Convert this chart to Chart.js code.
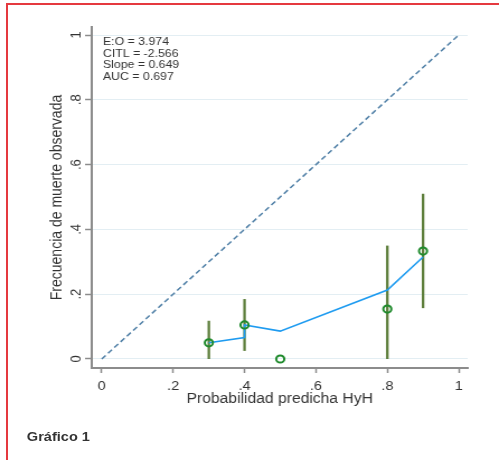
<!DOCTYPE html>
<html>
<head>
<meta charset="utf-8">
<script src="https://cdn.jsdelivr.net/npm/chart.js@4.4.1/dist/chart.umd.min.js"></script>
<style>
  html, body { margin: 0; padding: 0; background: #fff; overflow: hidden; }
  #frame { position: absolute; left: 6px; top: 3px; right: -10px; bottom: -10px;
           border-top: 2px solid #e5393f; border-left: 2px solid #e5393f; }
  #wrap { position: absolute; left: 0; top: 0; width: 446px; height: 460px;
          transform: scaleX(1.1188); transform-origin: 0 0; }
  #caption { position: absolute; left: 24px; top: 429px; font: bold 13px "Liberation Sans", Arial, sans-serif; color: #333; }
</style>
</head>
<body>
<div id="frame"></div>
<div id="wrap">
  <canvas id="c" width="446" height="460"></canvas>
  <div id="caption">Gráfico 1</div>
</div>
<script>
const X_TICKS = [0, 0.2, 0.4, 0.6, 0.8, 1];
const Y_TICKS = [0, 0.2, 0.4, 0.6, 0.8, 1];

// grouped observed frequency with 95% CI
const BIN_X = [0.3, 0.4, 0.5, 0.8, 0.9];
const OBS_Y = [0.05, 0.105, 0, 0.154, 0.333];
const CI_LO = [0, 0.025, 0, 0, 0.157];
const CI_HI = [0.118, 0.185, 0, 0.35, 0.51];

// smoothed calibration curve
const SMOOTH_X = [0.3, 0.4, 0.4, 0.5, 0.8, 0.9];
const SMOOTH_Y = [0.05, 0.066, 0.105, 0.086, 0.213, 0.315];

// reference line
const DIAG_X = [0, 1];
const DIAG_Y = [0, 1];

const STATS_LINES = ["E:O = 3.974", "CITL = -2.566", "Slope = 0.649", "AUC = 0.697"];

const AXIS = "#8c8c8c";
const FONT = "'Liberation Sans', Arial, sans-serif";

function fmtTick(v) {
  if (v === 0) return "0";
  if (v === 1) return "1";
  return String(Math.round(v * 10) / 10).replace(/^0\./, ".");
}

const pts = (xs, ys) => xs.map((x, i) => ({ x, y: ys[i] }));

const statsText = {
  id: "statsText",
  afterDatasetsDraw(chart) {
    const { ctx, chartArea } = chart;
    ctx.save();
    ctx.font = "11px " + FONT;
    ctx.fillStyle = "#333";
    ctx.textBaseline = "middle";
    STATS_LINES.forEach((t, i) => {
      ctx.fillText(t, chartArea.left + 10, chartArea.top + 15 + i * 11.5);
    });
    ctx.restore();
  },
};

const errorSets = BIN_X.map((x, i) => ({
  type: "line",
  data: [{ x, y: CI_LO[i] }, { x, y: CI_HI[i] }],
  borderColor: "#5e7f3c",
  borderWidth: 2.3,
  pointRadius: 0,
  order: 3,
}));

new Chart(document.getElementById("c"), {
  type: "scatter",
  data: {
    datasets: [
      {
        data: pts(BIN_X, OBS_Y),
        pointRadius: 3.6,
        pointBorderWidth: 2,
        pointBorderColor: "#1f8a2c",
        pointBackgroundColor: "rgba(0,0,0,0)",
        showLine: false,
        order: 1,
      },
      {
        type: "line",
        data: pts(SMOOTH_X, SMOOTH_Y),
        borderColor: "#1e9bf0",
        borderWidth: 1.6,
        pointRadius: 0,
        tension: 0,
        order: 2,
      },
      ...errorSets,
      {
        type: "line",
        data: pts(DIAG_X, DIAG_Y),
        borderColor: "#4f7fa6",
        borderWidth: 1.5,
        borderDash: [5, 3],
        pointRadius: 0,
        order: 4,
      },
    ],
  },
  options: {
    responsive: false,
    animation: false,
    events: [],
    layout: { padding: { left: 43, top: 27, right: 28, bottom: 52 } },
    plugins: { legend: { display: false }, tooltip: { enabled: false } },
    scales: {
      x: {
        type: "linear",
        min: -0.028,
        max: 1.025,
        afterBuildTicks: (s) => { s.ticks = X_TICKS.map((v) => ({ value: v })); },
        afterFit: (s) => { s.height = 40; },
        border: { display: true, color: AXIS, width: 2 },
        grid: { drawOnChartArea: false, tickLength: 5, tickColor: AXIS, tickWidth: 1.5 },
        ticks: { callback: fmtTick, padding: 6, color: "#333", font: { family: FONT, size: 13 } },
        title: {
          display: true, text: "Probabilidad predicha HyH", color: "#333",
          padding: 0, font: { family: FONT, size: 14 },
        },
      },
      y: {
        type: "linear",
        min: -0.0278,
        max: 1.0247,
        afterBuildTicks: (s) => { s.ticks = Y_TICKS.map((v) => ({ value: v })); },
        afterFit: (s) => { s.width = 39; },
        border: { display: true, color: AXIS, width: 2 },
        grid: { color: "#e3eef3", lineWidth: 1, tickLength: 6, tickColor: AXIS, tickWidth: 1.5 },
        ticks: {
          callback: fmtTick, padding: 2, minRotation: 90, maxRotation: 90, crossAlign: "center",
          color: "#333", font: { family: FONT, size: 13 },
        },
        title: {
          display: true, text: "Frecuencia de muerte observada", color: "#333",
          padding: 0, font: { family: FONT, size: 14 },
        },
      },
    },
  },
  plugins: [statsText],
});
</script>
</body>
</html>
